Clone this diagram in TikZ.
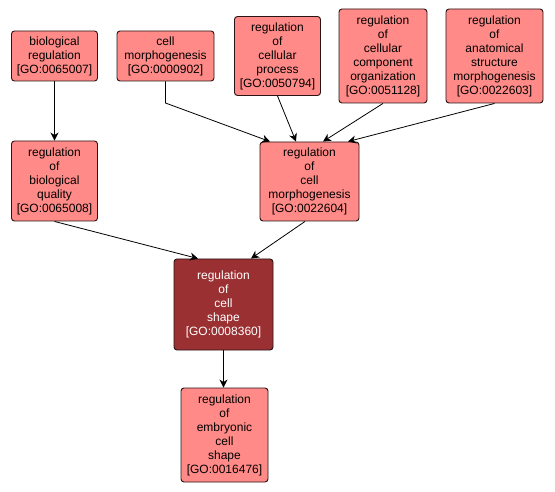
\documentclass[tikz,border=0pt]{standalone}
\usepackage{fontspec}
\setmainfont{Liberation Sans}
\usetikzlibrary{arrows.meta}
\definecolor{salmon}{RGB}{255,138,135}
\definecolor{darkred}{RGB}{155,48,50}
\definecolor{edgecol}{RGB}{40,20,20}
\begin{document}
\begin{tikzpicture}[x=1pt,y=-1pt,
  gobox/.style={draw=edgecol,line width=0.9pt,rounded corners=3pt,fill=salmon,
    align=center,inner sep=0pt,font=\fontsize{12}{14}\selectfont,text=black},
  darkbox/.style={gobox,fill=darkred,text=white},
  link/.style={draw=black,line width=0.8pt,-{Stealth[length=8pt,width=8pt,inset=2.5pt]}}]
\useasboundingbox (0,0) rectangle (555,492);
\node[gobox,minimum width=86pt,minimum height=50pt] (bioreg) at (54.5,56) {biological\\regulation\\{[GO:0065007]}};
\node[gobox,minimum width=97pt,minimum height=50pt] (cellmorph) at (165.5,56) {cell\\morphogenesis\\{[GO:0000902]}};
\node[gobox,minimum width=86pt,minimum height=79pt] (cellproc) at (277.5,56) {regulation\\of\\cellular\\process\\{[GO:0050794]}};
\node[gobox,minimum width=88pt,minimum height=94pt] (comporg) at (383,56) {regulation\\of\\cellular\\component\\organization\\{[GO:0051128]}};
\node[gobox,minimum width=97pt,minimum height=94pt] (anat) at (494.5,56) {regulation\\of\\anatomical\\structure\\morphogenesis\\{[GO:0022603]}};
\node[gobox,minimum width=86pt,minimum height=80pt] (bioqual) at (54.5,181) {regulation\\of\\biological\\quality\\{[GO:0065008]}};
\node[gobox,minimum width=99pt,minimum height=79pt] (regcm) at (309.5,181.5) {regulation\\of\\cell\\morphogenesis\\{[GO:0022604]}};
\node[darkbox,minimum width=99pt,minimum height=91pt] (shape) at (223.5,304.5) {regulation\\of\\cell\\shape\\{[GO:0008360]}};
\node[gobox,minimum width=87pt,minimum height=94pt] (embry) at (224.5,435) {regulation\\of\\embryonic\\cell\\shape\\{[GO:0016476]}};
\coordinate (bend) at (165.5,103);
\draw[link] (bioreg.south) -- (bioqual.north);
\draw[link] (cellmorph.south) -- (bend) -- ([xshift=-39.5pt]regcm.north);
\draw[link] (cellproc.south) -- ([xshift=-13.5pt]regcm.north);
\draw[link] (comporg.south) -- ([xshift=13.5pt]regcm.north);
\draw[link] (anat.south) -- ([xshift=38.5pt]regcm.north);
\draw[link] (bioqual.south) -- ([xshift=-25.5pt]shape.north);
\draw[link] ([xshift=-4.5pt]regcm.south) -- ([xshift=27.5pt]shape.north);
\draw[link] (shape.south) -- (shape.south |- embry.north);
\end{tikzpicture}
\end{document}
